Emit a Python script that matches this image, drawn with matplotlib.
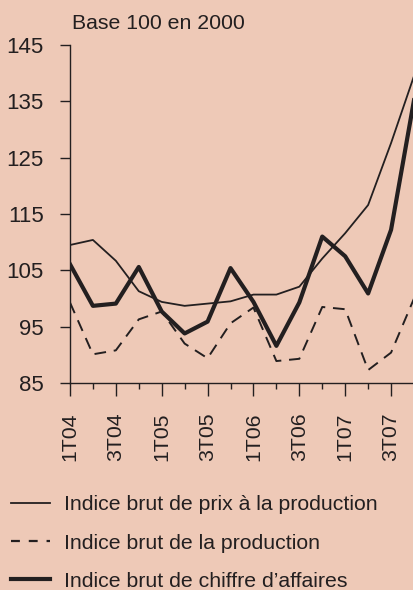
import matplotlib
matplotlib.use('Agg')
import matplotlib.pyplot as plt
from matplotlib.lines import Line2D

# quarters 1T04 .. 4T07
quarters = ['1T04', '2T04', '3T04', '4T04', '1T05', '2T05', '3T05', '4T05',
            '1T06', '2T06', '3T06', '4T06', '1T07', '2T07', '3T07', '4T07']

prix = [109.5, 110.4, 106.7, 101.3, 99.4, 98.7, 99.1, 99.5,
        100.7, 100.7, 102.1, 107.1, 111.6, 116.6, 127.6, 139.5]
production = [99.3, 90.1, 90.8, 96.3, 97.7, 92.0, 89.4, 95.6,
              98.4, 88.9, 89.3, 98.5, 98.1, 87.3, 90.4, 100.0]
chiffre = [106.1, 98.7, 99.1, 105.6, 97.7, 93.8, 95.9, 105.4,
           99.4, 91.6, 99.3, 111.0, 107.5, 100.9, 112.2, 135.2]

labels = ['Indice brut de prix à la production',
          'Indice brut de la production',
          'Indice brut de chiffre d\u2019affaires']

bg = '#EEC9B7'
ink = '#231F20'
fs = 15.3

plt.rcParams['font.family'] = ['Liberation Sans', 'DejaVu Sans']
plt.rcParams['font.size'] = fs

fig = plt.figure(figsize=(4.14, 5.90), dpi=100, facecolor=bg)
ax = fig.add_axes([0.169, 0.3508, 0.831, 0.5729])
ax.set_facecolor(bg)

x = list(range(len(quarters)))
l1, = ax.plot(x, prix, color=ink, lw=1.3, solid_joinstyle='round')
l2, = ax.plot(x, production, color=ink, lw=1.4, dashes=(6, 4))
l3, = ax.plot(x, chiffre, color=ink, lw=3.0, solid_joinstyle='round')

ax.set_xlim(0, 15)
ax.set_ylim(85, 145)
ax.set_yticks([85, 95, 105, 115, 125, 135, 145])
ax.set_xticks(x[::2])
ax.set_xticklabels(quarters[::2], rotation=90)
ax.set_xticks(x, minor=True)

for s in ['top', 'right']:
    ax.spines[s].set_visible(False)
for s in ['left', 'bottom']:
    ax.spines[s].set_color(ink)
    ax.spines[s].set_linewidth(1.0)

ax.tick_params(axis='y', length=7, width=1, color=ink, labelcolor=ink, pad=12, labelsize=fs + 0.7)
ax.tick_params(axis='x', which='major', length=9, width=1, color=ink, labelcolor=ink, pad=12, labelsize=fs)
ax.tick_params(axis='x', which='minor', length=4, width=1, color=ink)

fig.text(0.174, 0.960, 'Base 100 en 2000', fontsize=fs, color=ink, va='center')

handles = [Line2D([], [], color=ink, lw=1.3),
           Line2D([], [], color=ink, lw=1.6, dashes=(4, 4)),
           Line2D([], [], color=ink, lw=3.0)]
leg = fig.legend(handles, labels, loc='lower left', bbox_to_anchor=(0.012, -0.012),
                 frameon=False, fontsize=fs, handlelength=1.8, handletextpad=0.7,
                 labelspacing=0.9, borderaxespad=0.0, borderpad=0.3)
for t in leg.get_texts():
    t.set_color(ink)

fig.savefig('out.png', dpi=100, facecolor=bg)
